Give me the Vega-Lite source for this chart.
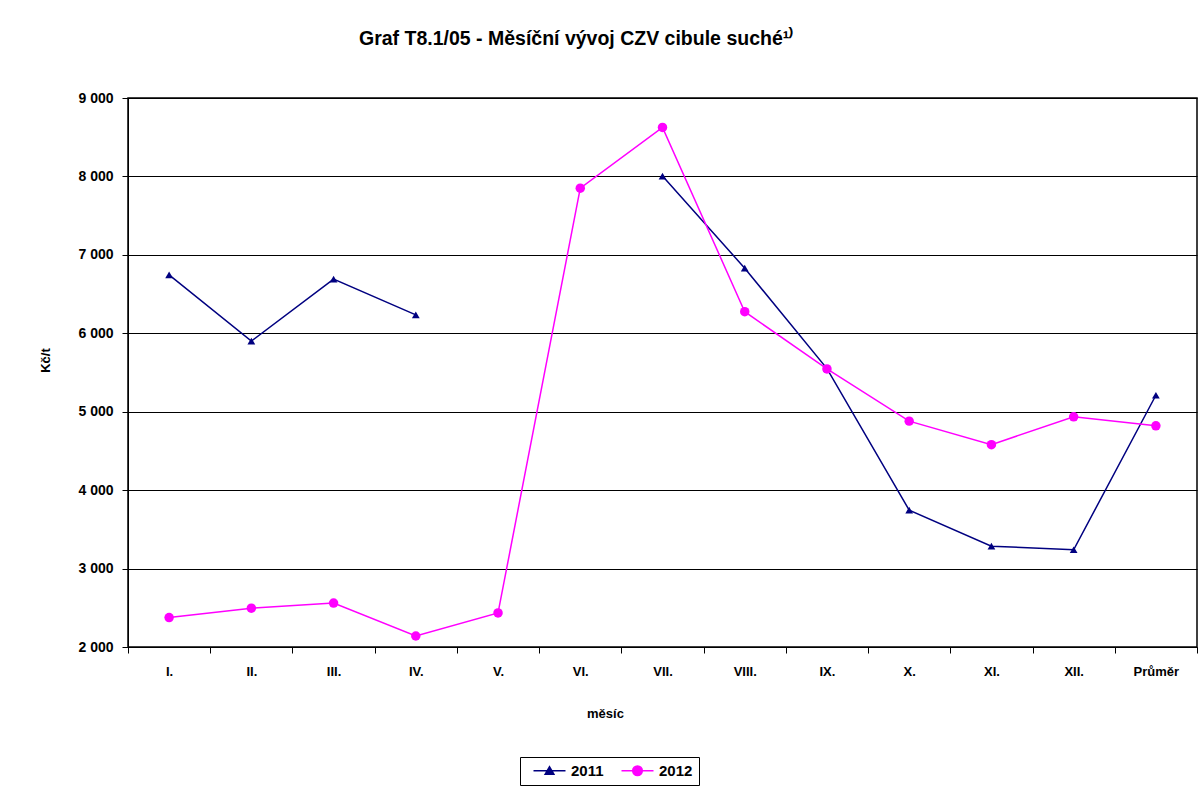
{
  "$schema": "https://vega.github.io/schema/vega-lite/v6.json",
  "width": 1069,
  "height": 549,
  "autosize": {"type": "none"},
  "padding": {"left": 128, "top": 98, "right": 6, "bottom": 142},
  "background": "white",
  "title": {
    "text": "Graf T8.1/05 - Měsíční vývoj CZV cibule suché¹⁾",
    "anchor": "start",
    "dx": 320,
    "offset": 42,
    "font": "Liberation Sans",
    "fontSize": 19.5,
    "fontWeight": "bold",
    "color": "black"
  },
  "config": {
    "view": {"stroke": "black", "strokeWidth": 1.5},
    "axis": {
      "labelFont": "Liberation Sans",
      "labelFontWeight": "bold",
      "labelFontSize": 13,
      "labelColor": "black",
      "titleFont": "Liberation Sans",
      "titleFontWeight": "bold",
      "titleFontSize": 13,
      "titleColor": "black",
      "domainColor": "black",
      "tickColor": "black"
    },
    "legend": {
      "labelFont": "Liberation Sans",
      "labelFontWeight": "bold",
      "labelFontSize": 15,
      "labelColor": "black"
    }
  },
  "data": {
    "values": [
      {"mesic": "I.", "rok": "2011", "cena": 6745},
      {"mesic": "II.", "rok": "2011", "cena": 5900},
      {"mesic": "III.", "rok": "2011", "cena": 6690},
      {"mesic": "IV.", "rok": "2011", "cena": 6235},
      {"mesic": "V.", "rok": "2011", "cena": null},
      {"mesic": "VI.", "rok": "2011", "cena": null},
      {"mesic": "VII.", "rok": "2011", "cena": 8005},
      {"mesic": "VIII.", "rok": "2011", "cena": 6830},
      {"mesic": "IX.", "rok": "2011", "cena": 5550},
      {"mesic": "X.", "rok": "2011", "cena": 3745},
      {"mesic": "XI.", "rok": "2011", "cena": 3285},
      {"mesic": "XII.", "rok": "2011", "cena": 3240},
      {"mesic": "Průměr", "rok": "2011", "cena": 5210},
      {"mesic": "I.", "rok": "2012", "cena": 2375},
      {"mesic": "II.", "rok": "2012", "cena": 2495},
      {"mesic": "III.", "rok": "2012", "cena": 2560},
      {"mesic": "IV.", "rok": "2012", "cena": 2140},
      {"mesic": "V.", "rok": "2012", "cena": 2435},
      {"mesic": "VI.", "rok": "2012", "cena": 7850},
      {"mesic": "VII.", "rok": "2012", "cena": 8625},
      {"mesic": "VIII.", "rok": "2012", "cena": 6275},
      {"mesic": "IX.", "rok": "2012", "cena": 5545},
      {"mesic": "X.", "rok": "2012", "cena": 4880},
      {"mesic": "XI.", "rok": "2012", "cena": 4580},
      {"mesic": "XII.", "rok": "2012", "cena": 4935},
      {"mesic": "Průměr", "rok": "2012", "cena": 4820}
    ]
  },
  "encoding": {
    "x": {
      "field": "mesic",
      "type": "nominal",
      "sort": null,
      "scale": {"type": "band", "paddingInner": 0, "paddingOuter": 0},
      "axis": {
        "title": "měsíc",
        "labelAngle": 0,
        "tickBand": "extent",
        "tickSize": 6,
        "labelPadding": 12,
        "titleX": 477,
        "titleY": 66,
        "titleAnchor": null,
        "titleAlign": "center",
        "titleBaseline": "middle",
        "domainWidth": 1
      }
    },
    "y": {
      "field": "cena",
      "type": "quantitative",
      "scale": {"domain": [2000, 9000], "nice": false, "zero": false},
      "axis": {
        "title": "Kč/t",
        "values": [2000, 3000, 4000, 5000, 6000, 7000, 8000, 9000],
        "labelExpr": "replace(format(datum.value, ','), ',', ' ')",
        "labelFontSize": 14,
        "grid": true,
        "gridColor": "black",
        "gridOpacity": 1,
        "gridWidth": 1,
        "tickSize": 6,
        "labelPadding": 9,
        "titleAngle": -90,
        "titleX": -83,
        "titleY": 262,
        "titleAlign": "center",
        "titleBaseline": "middle"
      }
    },
    "color": {
      "field": "rok",
      "type": "nominal",
      "scale": {"domain": ["2011", "2012"], "range": ["#000080", "#FF00FF"]},
      "legend": {
        "title": null,
        "orient": "none",
        "direction": "horizontal",
        "legendX": 392,
        "legendY": 659,
        "strokeColor": "black",
        "padding": 6,
        "symbolSize": 64,
        "symbolStrokeWidth": 1.5,
        "symbolOffset": 16,
        "columnPadding": 10,
        "labelOffset": 14,
        "encode": {
          "symbols": {
            "update": {
              "shape": {"signal": "datum.value == '2011' ? 'M-4,0H4M-1.1,0.9L0,-1L1.1,0.9Z' : 'M-4,0H4M-1.2,0A1.2,1.2 0 1,0 1.2,0A1.2,1.2 0 1,0 -1.2,0Z'"},
              "fill": {"signal": "datum.value == '2011' ? '#000080' : '#FF00FF'"},
              "stroke": {"signal": "datum.value == '2011' ? '#000080' : '#FF00FF'"},
              "fillOpacity": {"value": 1},
              "strokeOpacity": {"value": 1},
              "strokeWidth": {"value": 1.5}
            }
          }
        }
      }
    }
  },
  "layer": [
    {
      "mark": {"type": "line", "strokeWidth": 1.5, "invalid": "break-paths-show-domains"}
    },
    {
      "transform": [{"filter": "datum.rok == '2011'"}],
      "mark": {"type": "point", "filled": true, "opacity": 1, "shape": "triangle-up", "size": 60}
    },
    {
      "transform": [{"filter": "datum.rok == '2012'"}],
      "mark": {"type": "point", "filled": true, "opacity": 1, "shape": "circle", "size": 90}
    }
  ]
}
